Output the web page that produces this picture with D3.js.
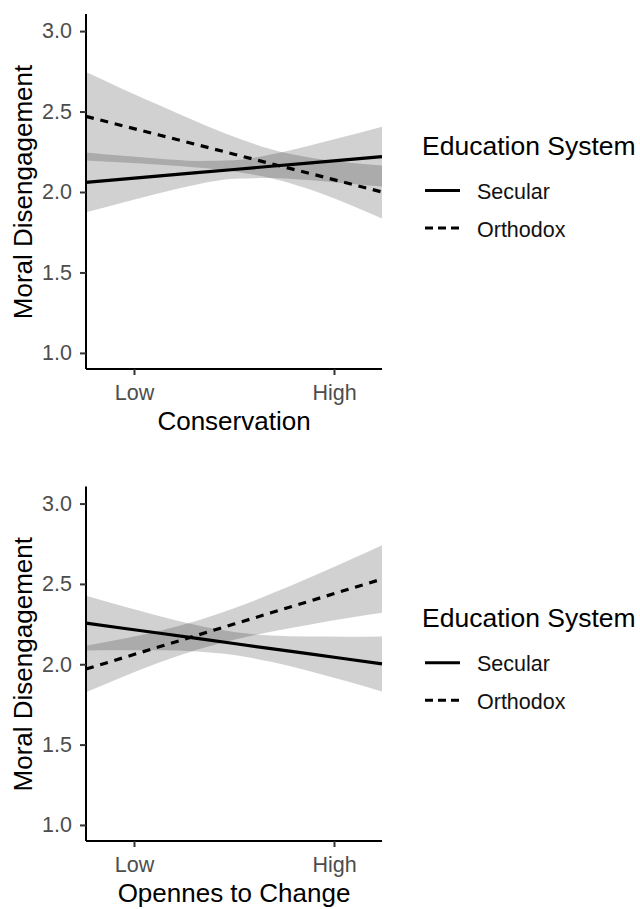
<!DOCTYPE html>
<html>
<head>
<meta charset="utf-8">
<script src="https://cdn.jsdelivr.net/npm/d3@7"></script>
<style>
  body { margin: 0; background: #fff; }
  text { font-family: "Liberation Sans", Arial, sans-serif; }
</style>
</head>
<body>
<div id="chart"></div>
<script>
// x positions (standardised predictor) where fits and bands were read
const xGrid = [-1.48, -1.11, -0.74, -0.37, 0, 0.37, 0.74, 1.11, 1.48]
const groups = ["Secular", "Orthodox"]
const xTickValues = [-1, 1]
const xTickLabels = ["Low", "High"]
const yTicks = [1.0, 1.5, 2.0, 2.5, 3.0]

// Conservation panel
const consSecularFit = [2.06, 2.08, 2.10, 2.12, 2.14, 2.16, 2.18, 2.20, 2.22]
const consSecularLow = [1.874, 1.935, 1.994, 2.047, 2.082, 2.087, 2.074, 2.055, 2.034]
const consSecularHigh = [2.246, 2.225, 2.206, 2.193, 2.198, 2.233, 2.286, 2.345, 2.406]
const consOrthodoxFit = [2.470, 2.411, 2.353, 2.294, 2.235, 2.176, 2.118, 2.059, 2.000]
const consOrthodoxLow = [2.195, 2.183, 2.169, 2.152, 2.127, 2.086, 2.020, 1.933, 1.835]
const consOrthodoxHigh = [2.745, 2.639, 2.537, 2.436, 2.343, 2.266, 2.216, 2.185, 2.165]

// Openness to change panel
const openSecularFit = [2.256, 2.224, 2.193, 2.161, 2.129, 2.097, 2.066, 2.034, 2.002]
const openSecularLow = [2.085, 2.087, 2.087, 2.079, 2.057, 2.015, 1.960, 1.897, 1.831]
const openSecularHigh = [2.427, 2.361, 2.299, 2.243, 2.201, 2.179, 2.172, 2.171, 2.173]
const openOrthodoxFit = [1.970, 2.040, 2.110, 2.180, 2.250, 2.320, 2.390, 2.460, 2.530]
const openOrthodoxLow = [1.825, 1.922, 2.012, 2.090, 2.152, 2.202, 2.245, 2.284, 2.320]
const openOrthodoxHigh = [2.115, 2.158, 2.208, 2.270, 2.348, 2.438, 2.535, 2.636, 2.740]

const svg = d3.select("#chart")
    .append("svg")
    .attr("width", 640)
    .attr("height", 909)

svg.append("rect").attr("width", 640).attr("height", 909).attr("fill", "#fff")

const left = 86, right = 382
const x = d3.scaleLinear().domain([-1.48, 1.48]).range([left, right])

drawPanel({
    top: 15, bottom: 369, xTitle: "Conservation",
    fits: [consSecularFit, consOrthodoxFit],
    lows: [consSecularLow, consOrthodoxLow],
    highs: [consSecularHigh, consOrthodoxHigh]
})
drawPanel({
    top: 487.5, bottom: 841, xTitle: "Opennes to Change",
    fits: [openSecularFit, openOrthodoxFit],
    lows: [openSecularLow, openOrthodoxLow],
    highs: [openSecularHigh, openOrthodoxHigh]
})

function drawPanel(p) {
    const y = d3.scaleLinear().domain([0.9, 3.1]).range([p.bottom, p.top])
    const g = svg.append("g")

    // confidence bands
    groups.forEach((name, i) => {
        const area = d3.area()
            .x((d, j) => x(xGrid[j]))
            .y0((d, j) => y(p.lows[i][j]))
            .y1((d, j) => y(p.highs[i][j]))
            .curve(d3.curveMonotoneX)
        g.append("path")
            .attr("d", area(xGrid))
            .attr("fill", "#000")
            .attr("fill-opacity", 0.18)
    })

    // fitted lines
    groups.forEach((name, i) => {
        const line = d3.line()
            .x((d, j) => x(xGrid[j]))
            .y((d) => y(d))
        g.append("path")
            .attr("d", line(p.fits[i]))
            .attr("fill", "none")
            .attr("stroke", "#000")
            .attr("stroke-width", 3.2)
            .attr("stroke-dasharray", name == "Orthodox" ? "8,6.8" : null)
    })

    // axes
    const yAxis = g.append("g")
        .attr("transform", "translate(" + left + ",0)")
        .call(d3.axisLeft(y).tickValues(yTicks).tickFormat(d3.format(".1f")).tickSize(6).tickPadding(8))
    const xAxis = g.append("g")
        .attr("transform", "translate(0," + p.bottom + ")")
        .call(d3.axisBottom(x).tickValues(xTickValues).tickFormat((d, i) => xTickLabels[i]).tickSize(6).tickPadding(10))

    ;[yAxis, xAxis].forEach(a => {
        a.select(".domain").attr("stroke", "#000").attr("stroke-width", 2)
        a.selectAll(".tick line").attr("stroke", "#333").attr("stroke-width", 2)
        a.selectAll(".tick text")
            .attr("fill", "#4d4d4d")
            .style("font-size", "21.5px")
            .style("font-family", "Liberation Sans, Arial, sans-serif")
    })
    // domain paths without outer ticks
    yAxis.select(".domain").attr("d", "M0," + (p.top - 1) + "V" + p.bottom)
    xAxis.select(".domain").attr("d", "M" + left + ",0H" + right)

    // axis titles
    const cy = (p.top + p.bottom) / 2
    g.append("text")
        .attr("x", (left + right) / 2)
        .attr("y", p.bottom + 61)
        .attr("text-anchor", "middle")
        .style("font-size", "26px")
        .text(p.xTitle)
    g.append("text")
        .attr("transform", "translate(32," + cy + ") rotate(-90)")
        .attr("text-anchor", "middle")
        .style("font-size", "26px")
        .text("Moral Disengagement")

    // legend
    const lg = g.append("g").attr("transform", "translate(0," + cy + ")")
    lg.append("text")
        .attr("x", 422)
        .attr("y", -37)
        .style("font-size", "26.5px")
        .text("Education System")
    groups.forEach((name, i) => {
        const ky = i == 0 ? -1.5 : 36
        lg.append("line")
            .attr("x1", 425).attr("x2", 460)
            .attr("y1", ky).attr("y2", ky)
            .attr("stroke", "#000")
            .attr("stroke-width", 3.2)
            .attr("stroke-dasharray", name == "Orthodox" ? "8,5" : null)
        lg.append("text")
            .attr("x", 477)
            .attr("y", ky + 8.5)
            .style("font-size", "21.5px")
            .attr("fill", "#111")
            .text(name)
    })
}
</script>
</body>
</html>
